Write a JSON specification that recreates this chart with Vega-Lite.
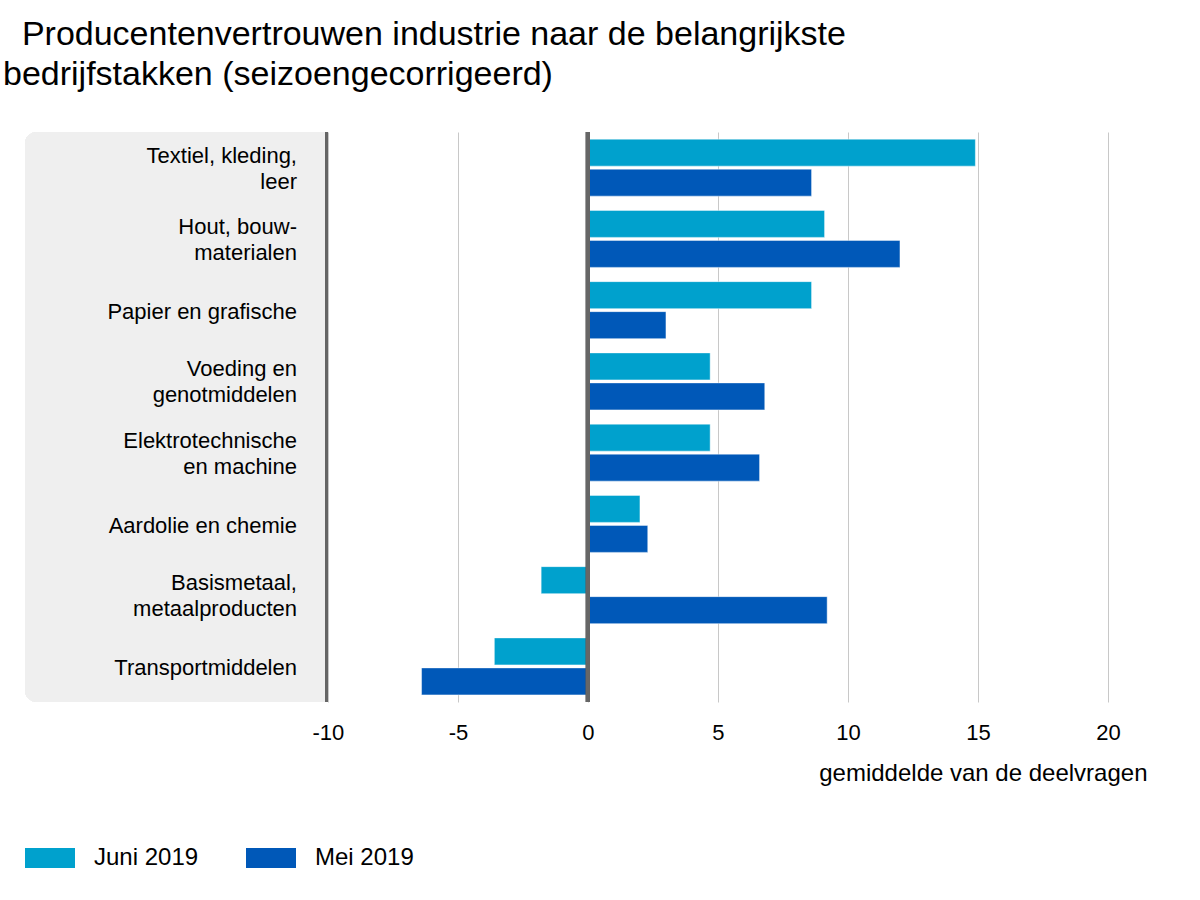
{
  "$schema": "https://vega.github.io/schema/vega-lite/v6.json",
  "autosize": {"type": "none"},
  "padding": {"left": 25, "top": 132, "right": 53, "bottom": 198},
  "width": 1122,
  "height": 570,
  "background": "white",
  "config": {
    "font": "Liberation Sans",
    "view": {"stroke": null}
  },
  "title": {
    "text": ["\u200b\u00a0\u00a0Producentenvertrouwen industrie naar de belangrijkste", "bedrijfstakken (seizoengecorrigeerd)"],
    "anchor": "start",
    "frame": "group",
    "dx": -22,
    "fontSize": 34,
    "fontWeight": "normal",
    "color": "#000000",
    "lineHeight": 40,
    "offset": 38
  },
  "data": {
    "values": [
      {"bedrijfstak": "Textiel, kleding,\nleer", "periode": "Juni 2019", "waarde": 14.9},
      {"bedrijfstak": "Textiel, kleding,\nleer", "periode": "Mei 2019", "waarde": 8.6},
      {"bedrijfstak": "Hout, bouw-\nmaterialen", "periode": "Juni 2019", "waarde": 9.1},
      {"bedrijfstak": "Hout, bouw-\nmaterialen", "periode": "Mei 2019", "waarde": 12.0},
      {"bedrijfstak": "Papier en grafische", "periode": "Juni 2019", "waarde": 8.6},
      {"bedrijfstak": "Papier en grafische", "periode": "Mei 2019", "waarde": 3.0},
      {"bedrijfstak": "Voeding en\ngenotmiddelen", "periode": "Juni 2019", "waarde": 4.7},
      {"bedrijfstak": "Voeding en\ngenotmiddelen", "periode": "Mei 2019", "waarde": 6.8},
      {"bedrijfstak": "Elektrotechnische\nen machine", "periode": "Juni 2019", "waarde": 4.7},
      {"bedrijfstak": "Elektrotechnische\nen machine", "periode": "Mei 2019", "waarde": 6.6},
      {"bedrijfstak": "Aardolie en chemie", "periode": "Juni 2019", "waarde": 2.0},
      {"bedrijfstak": "Aardolie en chemie", "periode": "Mei 2019", "waarde": 2.3},
      {"bedrijfstak": "Basismetaal,\nmetaalproducten", "periode": "Juni 2019", "waarde": -1.8},
      {"bedrijfstak": "Basismetaal,\nmetaalproducten", "periode": "Mei 2019", "waarde": 9.2},
      {"bedrijfstak": "Transportmiddelen", "periode": "Juni 2019", "waarde": -3.6},
      {"bedrijfstak": "Transportmiddelen", "periode": "Mei 2019", "waarde": -6.4}
    ]
  },
  "layer": [
    {
      "mark": {"type": "rect", "color": "#efefef", "cornerRadiusTopLeft": 12, "cornerRadiusBottomLeft": 12},
      "encoding": {
        "x": {"datum": -21.65, "type": "quantitative", "scale": {"domain": [-21.65, 21.5], "nice": false, "zero": false}},
        "x2": {"datum": -10}
      }
    },
    {
      "mark": {"type": "bar", "stroke": "#ffffff", "strokeOpacity": 0.45, "strokeWidth": 1},
      "encoding": {
        "y": {
          "field": "bedrijfstak", "type": "nominal", "sort": null,
          "scale": {"paddingInner": 0.2, "paddingOuter": 0.1},
          "axis": null
        },
        "yOffset": {
          "field": "periode", "type": "nominal", "sort": ["Juni 2019", "Mei 2019"],
          "scale": {"paddingInner": 0.1}
        },
        "x": {
          "field": "waarde", "type": "quantitative",
          "scale": {"domain": [-21.65, 21.5], "nice": false, "zero": false},
          "axis": {
            "values": [-10, -5, 0, 5, 10, 15, 20],
            "labelExpr": "datum.value < 0 ? '-' + abs(datum.value) : '' + datum.value",
            "domain": false,
            "ticks": false,
            "grid": true,
            "gridColor": "#c8c8c8",
            "gridWidth": 1,
            "labelFontSize": 22,
            "labelColor": "#000000",
            "labelPadding": 20,
            "title": "gemiddelde van de deelvragen",
            "titleAnchor": "end",
            "titleFontSize": 24,
            "titleFontWeight": "normal",
            "titleColor": "#000000",
            "titlePadding": 18
          }
        },
        "color": {
          "field": "periode", "type": "nominal", "sort": ["Juni 2019", "Mei 2019"],
          "scale": {"domain": ["Juni 2019", "Mei 2019"], "range": ["#00a1cd", "#0058b8"]},
          "legend": {
            "title": null,
            "orient": "none",
            "legendX": 0,
            "legendY": 701,
            "direction": "horizontal",
            "columns": 2,
            "symbolType": "M-1,-0.4H1V0.4H-1Z",
            "symbolSize": 2500,
            "symbolStrokeWidth": 0,
            "symbolOpacity": 1,
            "labelFontSize": 24,
            "labelColor": "#000000",
            "labelOffset": 19,
            "columnPadding": 47
          }
        }
      }
    },
    {
      "mark": {"type": "rule", "color": "#666666", "strokeWidth": 2},
      "encoding": {"x": {"datum": -10.05, "type": "quantitative"}}
    },
    {
      "mark": {"type": "rule", "color": "#666666", "strokeWidth": 4},
      "encoding": {"x": {"datum": 0, "type": "quantitative"}}
    },
    {
      "transform": [{"filter": "datum.periode == 'Juni 2019' && indexof(datum.bedrijfstak, '\\n') < 0"}],
      "mark": {"type": "text", "align": "right", "baseline": "middle", "fontSize": 22, "color": "#000000", "dy": 2},
      "encoding": {
        "y": {"field": "bedrijfstak", "type": "nominal", "sort": null},
        "x": {"datum": -11.19, "type": "quantitative"},
        "text": {"field": "bedrijfstak", "type": "nominal"}
      }
    },
    {
      "transform": [{"filter": "datum.periode == 'Juni 2019' && indexof(datum.bedrijfstak, '\\n') >= 0"}],
      "mark": {"type": "text", "align": "right", "baseline": "middle", "fontSize": 22, "lineHeight": 26, "lineBreak": "\n", "color": "#000000", "dy": -12},
      "encoding": {
        "y": {"field": "bedrijfstak", "type": "nominal", "sort": null},
        "x": {"datum": -11.19, "type": "quantitative"},
        "text": {"field": "bedrijfstak", "type": "nominal"}
      }
    }
  ]
}
